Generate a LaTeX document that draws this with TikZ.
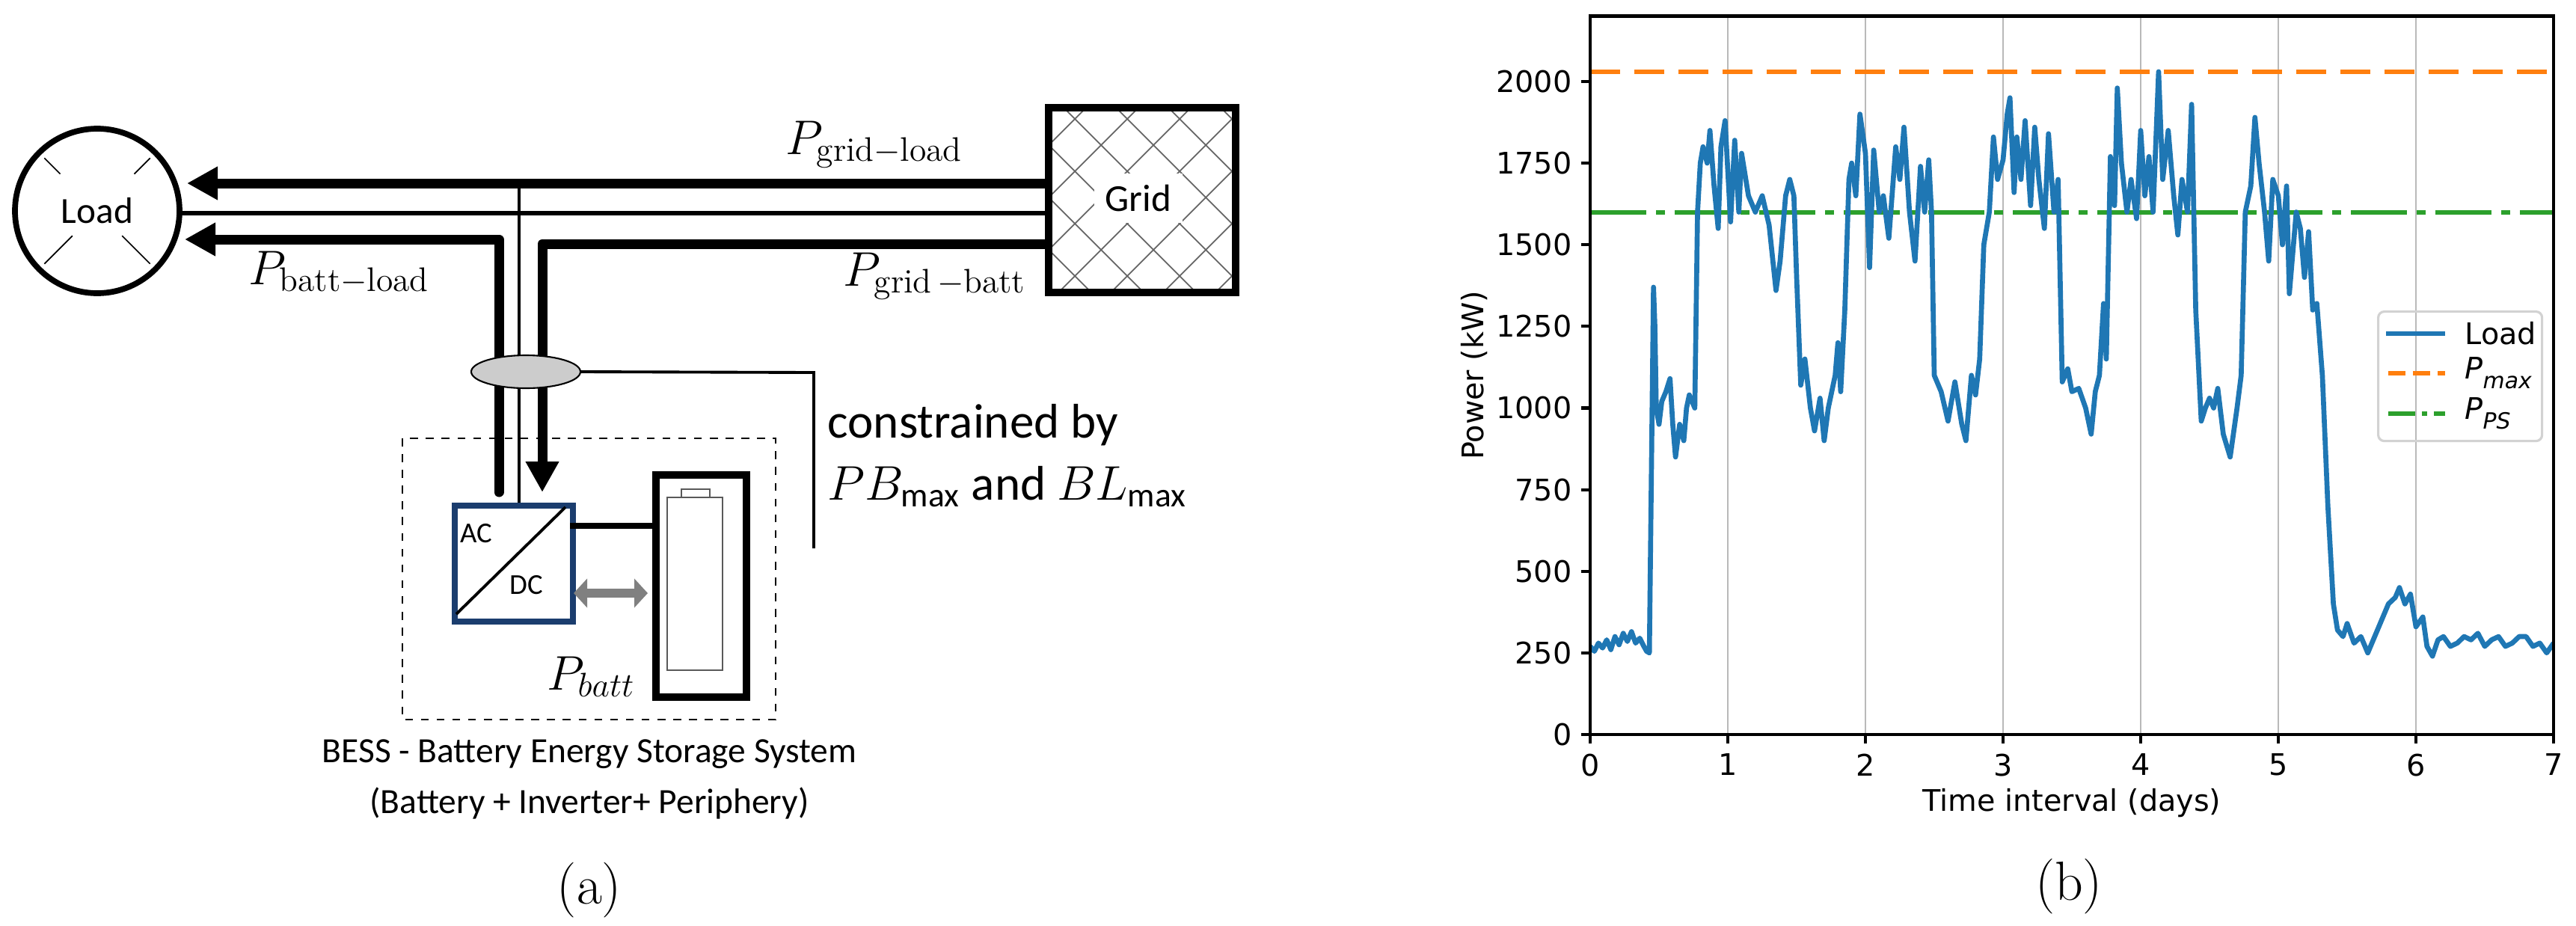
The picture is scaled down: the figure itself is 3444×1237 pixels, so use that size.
\RequirePackage{fix-cm}
\documentclass[tikz,border=0pt]{standalone}
\usepackage{amsmath}
\usepackage{fontspec}
\newfontfamily\calfont{Carlito}
\newfontfamily\dvfont{DejaVu Sans}
\usetikzlibrary{arrows.meta,shapes.geometric}
\definecolor{tabblue}{HTML}{1F77B4}
\definecolor{taborange}{HTML}{FF7F0E}
\definecolor{tabgreen}{HTML}{2CA02C}
\definecolor{convblue}{HTML}{1B3D6E}
\tikzset{
  thickflow/.style={line width=3.7pt},
  thinflow/.style={line width=1.6pt},
  bigarrow/.style={-{Triangle[length=4.1mm,width=4.2mm]}},
  lbl/.style={inner sep=0pt,anchor=base west,font=\fontsize{18.5}{20}\selectfont},
  caltext/.style={inner sep=0pt,font=\calfont\fontsize{18.5}{22}\selectfont},
  ticklbl/.style={inner sep=0pt,font=\dvfont\fontsize{11.3}{13}\selectfont},
}
\begin{document}
\begin{tikzpicture}[x=0.1mm,y=-0.1mm]
\useasboundingbox (0,0) rectangle (3444,1237);
% ---------- (a) ----------
\node[draw,circle,line width=2.2pt,minimum size=22mm,inner sep=0pt] (load) at (130,282) {};
\node[caltext,font=\calfont\fontsize{14}{16}\selectfont] at (load.center) {Load};
\foreach \a/\r in {135/70,45/70,225/47,315/47}
  \draw[line width=0.5pt] (load.center) ++(\a:\r*0.1mm) -- ++(\a:{(100-\r)*0.1mm});
% grid
\node[draw,rectangle,line width=2.8pt,minimum width=25mm,minimum height=24.7mm,anchor=north west] (grid) at (1397,139) {};
\begin{scope}
  \clip (1397,139) rectangle (1647,386);
  \foreach \c in {-400,-330,...,400}
    {\draw[gray!80!black,line width=0.5pt] (1397+\c,139) -- ++(300,300);
     \draw[gray!80!black,line width=0.5pt] (1397+\c+250,139) -- ++(-300,300);}
\end{scope}
\node[draw,rectangle,line width=2.8pt,minimum width=25mm,minimum height=24.7mm,anchor=north west] at (1397,139) {};
\node[caltext,fill=white,inner sep=1.5mm,font=\calfont\fontsize{14.5}{16}\selectfont] (gridlbl) at (1522,265) {Grid};
% coordinates
\coordinate (gl) at (1397,245);
\coordinate (ll) at (250,245);
\coordinate (gm) at (1397,285);
\coordinate (lm) at (242,285);
\coordinate (gb) at (1397,326);
\coordinate (cb) at (725,326);
\coordinate (tb) at (725,658);
\coordinate (sb) at (667,657);
\coordinate (cl) at (667,320);
\coordinate (lb) at (247,320);
\coordinate (vt) at (694,245);
% converter
\node[draw=convblue,rectangle,line width=2.3pt,minimum width=15.8mm,minimum height=15.5mm,anchor=north west] (conv) at (604,672) {};
\draw[line width=1.1pt] (610,821) -- (756,678);
\node[caltext,font=\calfont\fontsize{11}{12}\selectfont] at (637,713) {AC};
\node[caltext,font=\calfont\fontsize{11}{12}\selectfont] at (704,782) {DC};
% battery
\node[draw,rectangle,line width=2.8pt,minimum width=12.1mm,minimum height=29.7mm,anchor=north west] (batt) at (872,630) {};
\draw[gray!70!black,line width=0.5pt] (892,665) rectangle (966,896);
\draw[gray!70!black,line width=0.5pt] (911,654) rectangle (949,665);
% flows
\draw[thickflow,bigarrow] (gl) -- (ll);
\draw[thinflow] (gm) -- (lm);
\draw[thickflow,bigarrow,line join=round] (sb) -- (cl) -- (lb);
\draw[thickflow,line cap=round] (sb) -- ++(0,1);
\draw[thickflow,bigarrow,line join=round] (gb) -- (cb) -- (tb);
\draw[line width=1.4pt] (vt) -- (conv.north -| vt);
\draw[line width=2pt] (762,703) -- (batt.west |- 0,703);
\draw[gray,line width=3.3pt,{Triangle[length=1.8mm,width=3.8mm]}-{Triangle[length=1.8mm,width=3.8mm]}] (767,793) -- (866,793);
% ellipse and constraint
\node[draw,ellipse,fill=gray!40,line width=0.6pt,minimum width=14.6mm,minimum height=4.4mm,inner sep=0pt] (ell) at (703,497) {};
\coordinate (cc) at (1088,498);
\coordinate (cd) at (1088,733);
\draw[line width=1.1pt] (ell.east) -- (cc) -- (cd);
% dashed box
\draw[dashed,line width=0.7pt] (538,586) rectangle (1037,962);
% labels
\node[lbl] at (1050,206) {$P_{\mathrm{grid}-\mathrm{load}}$};
\node[lbl] at (1127,382) {$P_{\mathrm{grid}\,-\mathrm{batt}}$};
\node[lbl] at (332,380) {$P_{\mathrm{batt}-\mathrm{load}}$};
\node[lbl] at (731,922) {$P_{batt}$};
\node[caltext,anchor=base west] at (1106,585) {constrained by};
\node[caltext,anchor=base west] at (1106,668) {$PB_{\text{\calfont max}}$ and $BL_{\text{\calfont max}}$};
\node[caltext,font=\calfont\fontsize{13.5}{15}\selectfont,align=center] at (788,1042) {BESS - Battery Energy Storage System\\[1.6mm](Battery + Inverter+ Periphery)};
\node[inner sep=0pt,font=\fontsize{21}{23}\selectfont] at (788,1190) {(a)};
\node[inner sep=0pt,font=\fontsize{21}{23}\selectfont] at (2766,1185) {(b)};
% ---------- (b) plot ----------
\begin{scope}[shift={(2126,982)},x=18.4mm,y=0.04365mm]
  \foreach \d in {1,...,6} \draw[gray!55,line width=0.8pt] (\d,0) -- (\d,2200);
  \draw[taborange,line width=1.7pt,dash pattern=on 4mm off 1.9mm] (0,2030) -- (7,2030);
  \draw[tabgreen,line width=1.7pt,dash pattern=on 7.5mm off 1.3mm on 1.2mm off 1.3mm] (0,1600) -- (7,1600);
  \begin{scope}
  \clip (0,0) rectangle (7,2200);
  \draw[tabblue,line width=1.9pt,line join=round] plot coordinates {
   (0,270) (0.03,255) (0.06,280) (0.09,265) (0.12,290) (0.15,260) (0.18,300) (0.21,275) (0.24,310) (0.27,285) (0.3,315) (0.33,280) (0.36,295) (0.39,270) (0.41,255)
   (0.43,250) (0.45,1000) (0.46,1370) (0.47,1250) (0.48,1000) (0.5,950) (0.52,1020) (0.55,1050) (0.58,1090) (0.6,950) (0.62,850) (0.65,950) (0.68,900) (0.7,1000) (0.72,1040) (0.76,1000)
   (0.78,1600) (0.8,1750) (0.82,1800) (0.85,1750) (0.87,1850) (0.9,1680) (0.93,1550) (0.95,1800) (0.98,1880) (1.02,1570) (1.05,1820) (1.08,1600) (1.1,1780) (1.15,1650) (1.2,1600) (1.25,1650) (1.3,1560) (1.35,1360) (1.38,1450) (1.42,1650) (1.45,1700) (1.48,1650)
   (1.5,1400) (1.53,1070) (1.56,1150) (1.6,1000) (1.63,930) (1.67,1030) (1.7,900) (1.73,1000) (1.78,1100) (1.8,1200) (1.82,1050) (1.85,1300) (1.88,1700) (1.9,1750) (1.93,1650) (1.96,1900) (2.0,1780) (2.03,1430) (2.06,1790) (2.1,1600) (2.13,1650) (2.17,1520) (2.22,1800) (2.25,1700) (2.28,1860) (2.32,1600) (2.36,1450) (2.4,1740) (2.43,1600) (2.46,1760) (2.48,1600)
   (2.5,1100) (2.55,1050) (2.6,960) (2.65,1080) (2.7,950) (2.73,900) (2.77,1100) (2.8,1040) (2.83,1150) (2.86,1500) (2.9,1600) (2.93,1830) (2.96,1700) (3.0,1760) (3.03,1900) (3.05,1950) (3.08,1660) (3.1,1830) (3.13,1700) (3.16,1880) (3.2,1620) (3.23,1860) (3.26,1700) (3.3,1550) (3.33,1840) (3.37,1600) (3.4,1700)
   (3.43,1080) (3.47,1120) (3.5,1050) (3.55,1060) (3.6,1000) (3.64,920) (3.67,1050) (3.7,1100) (3.73,1320) (3.75,1150) (3.78,1770) (3.81,1620) (3.83,1980) (3.86,1750) (3.9,1600) (3.93,1700) (3.97,1580) (4.0,1850) (4.03,1650) (4.06,1770) (4.09,1600) (4.13,2030) (4.16,1700) (4.2,1850) (4.24,1650) (4.27,1530) (4.3,1700) (4.34,1600) (4.37,1930)
   (4.4,1300) (4.44,960) (4.47,1000) (4.5,1030) (4.53,1000) (4.56,1060) (4.6,920) (4.65,850) (4.7,1000) (4.73,1100) (4.76,1600) (4.8,1680) (4.83,1890) (4.86,1750) (4.9,1600) (4.93,1450) (4.96,1700) (5.0,1650) (5.03,1500) (5.06,1680) (5.08,1350) (5.1,1450) (5.13,1600) (5.16,1550) (5.19,1400) (5.22,1540) (5.25,1300) (5.28,1320) (5.32,1100)
   (5.36,700) (5.4,400) (5.43,320) (5.47,300) (5.5,340) (5.55,280) (5.6,300) (5.65,250) (5.7,300) (5.75,350) (5.8,400) (5.85,420) (5.88,450) (5.92,400) (5.96,430) (6.0,330) (6.05,360) (6.08,270) (6.12,240) (6.16,290) (6.2,300) (6.25,270) (6.3,280) (6.35,300) (6.4,290) (6.45,310) (6.5,270) (6.55,290) (6.6,300) (6.65,270) (6.7,280) (6.75,300) (6.8,300) (6.85,270) (6.9,280) (6.95,250) (7.0,280)};
  \end{scope}
  \draw[line width=1.4pt] (0,0) rectangle (7,2200);
  \foreach \d in {0,...,7} {\draw[line width=1.2pt] (\d,0) -- ++(0,-1.2mm);
    \node[ticklbl,anchor=north] at ([yshift=-2.5mm]\d,0) {\d};}
  \foreach \v in {0,250,...,2000} {\draw[line width=1.2pt] (0,\v) -- ++(-1.2mm,0);
    \node[ticklbl,anchor=east] at ([xshift=-2.4mm]0,\v) {\v};}
  \node[ticklbl] (xl) at (3.5,-210) {Time interval (days)};
  \node[ticklbl,rotate=90] (yl) at (-0.84,1100) {Power (kW)};
\end{scope}
% legend
\node[draw=gray!35,line width=0.9pt,rounded corners=0.8mm,minimum width=21.9mm,minimum height=17.3mm,anchor=north west] (leg) at (3178,415) {};
\draw[tabblue,line width=1.9pt] (3190,446) -- (3269,446);
\draw[taborange,line width=1.7pt,dash pattern=on 2.3mm off 1mm] (3193,499) -- (3269,499);
\draw[tabgreen,line width=1.7pt,dash pattern=on 3.6mm off 0.9mm on 0.7mm off 0.9mm] (3193,553) -- (3269,553);
\node[ticklbl,anchor=west] at (3295,446) {Load};
\node[ticklbl,anchor=west] at (3295,499) {\dvfont\itshape P\raisebox{-0.6ex}{\fontsize{8.5}{9}\selectfont max}};
\node[ticklbl,anchor=west] at (3295,553) {\dvfont\itshape P\raisebox{-0.6ex}{\fontsize{8.5}{9}\selectfont PS}};
\end{tikzpicture}
\end{document}
